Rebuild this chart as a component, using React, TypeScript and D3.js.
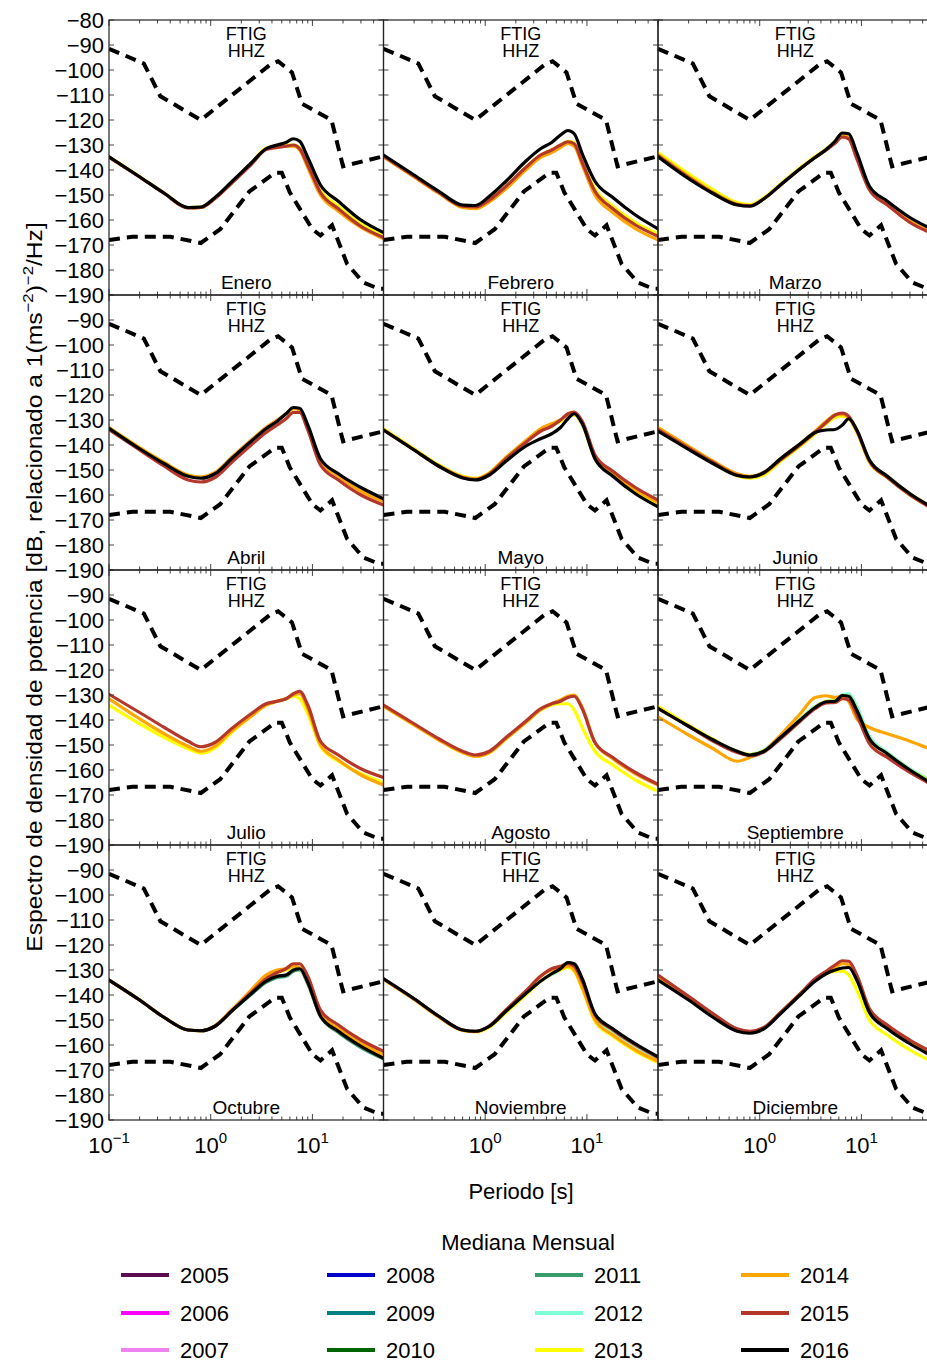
import React from 'react';
import * as d3 from 'd3';

// Periods (s) at which the monthly median curves are sampled
const PERIODS = [0.1, 0.2, 0.35, 0.6, 0.8, 1.1, 1.6, 2.5, 3.5, 4.5, 5.5, 6.5, 7.5, 9, 12, 18, 30, 50];

const YEARS = ['2005', '2006', '2007', '2008', '2009', '2010', '2011', '2012', '2013', '2014', '2015', '2016'];
const YEAR_COLORS = ['#5b0b4f', '#ff00ff', '#ee82ee', '#0000cd', '#008080', '#006400', '#3a9b6c', '#7fffd4', '#ffff00', '#ffa500', '#b5372a', '#000000'];

// Peterson high / low noise models (breakpoints)
const NHNM_P = [0.1, 0.22, 0.32, 0.8, 3.8, 4.6, 6.3, 7.9, 15.4, 20, 50];
const NHNM_DB = [-91.5, -97.4, -110.5, -120, -98, -96.5, -101, -113.5, -120, -138.5, -134.5];
const NLNM_P = [0.1, 0.17, 0.4, 0.8, 1.24, 2.4, 4.3, 5, 6, 10, 12, 15.6, 21.9, 31.6, 45, 50];
const NLNM_DB = [-168, -166.7, -166.7, -169.2, -163.7, -148.6, -141.1, -141.1, -149, -163.7, -166.2, -162.1, -177.5, -185, -187.5, -187.5];

const MONTHS = ['Enero', 'Febrero', 'Marzo', 'Abril', 'Mayo', 'Junio', 'Julio', 'Agosto', 'Septiembre', 'Octubre', 'Noviembre', 'Diciembre'];
const STATION = 'FTIG';
const CHANNEL = 'HHZ';
const Y_TICKS = [-80, -90, -100, -110, -120, -130, -140, -150, -160, -170, -180, -190];
const X_DECADES = [0.1, 1, 10];
const X_EXPONENTS = ['−1', '0', '1'];

type Series = [string, number[]];

const ENERO: Series[] = [
  ['2013', [-134.6, -142.6, -149.2, -155.0, -154.8, -151.2, -145.0, -137.3, -131.2, -130.5, -130.0, -130.0, -131.0, -137.0, -148.0, -154.5, -161.5, -166.5]],
  ['2014', [-134.8, -142.8, -149.4, -155.2, -155.0, -151.4, -145.3, -137.5, -131.5, -130.5, -130.5, -130.5, -132.0, -139.0, -150.0, -156.5, -163.0, -167.5]],
  ['2015', [-134.8, -142.8, -149.4, -155.2, -155.0, -151.4, -145.3, -137.8, -131.8, -131.0, -130.5, -130.0, -131.5, -138.0, -149.0, -155.5, -162.5, -167.0]],
  ['2016', [-134.7, -142.7, -149.3, -155.0, -154.8, -151.0, -144.8, -137.2, -131.5, -130.0, -129.0, -127.5, -128.5, -135.0, -146.0, -152.5, -160.0, -165.0]],
];
const FEBRERO: Series[] = [
  ['2013', [-134.5, -142.5, -149.0, -154.5, -154.8, -152.0, -146.5, -139.0, -134.0, -132.0, -130.0, -128.5, -129.0, -136.0, -147.5, -154.5, -161.0, -165.5]],
  ['2014', [-134.8, -142.8, -149.3, -155.0, -155.5, -152.8, -147.5, -140.0, -135.0, -133.0, -131.0, -129.5, -130.5, -138.0, -150.0, -157.0, -163.5, -168.0]],
  ['2015', [-134.5, -142.5, -149.0, -154.5, -154.8, -152.0, -146.5, -139.0, -134.0, -132.0, -130.0, -128.7, -129.5, -137.0, -148.5, -155.5, -162.0, -166.5]],
  ['2016', [-134.0, -142.0, -148.5, -154.0, -154.2, -150.5, -144.5, -136.5, -131.5, -129.0, -126.0, -124.2, -125.5, -133.5, -144.5, -151.0, -158.0, -163.5]],
];
const MARZO: Series[] = [
  ['2013', [-133.0, -141.5, -148.0, -153.0, -153.8, -151.0, -145.5, -139.0, -134.5, -131.5, -128.5, -126.0, -127.0, -134.5, -147.5, -153.5, -160.0, -164.5]],
  ['2014', [-133.8, -142.5, -149.0, -153.6, -154.2, -151.5, -146.0, -139.5, -135.0, -132.0, -129.0, -126.2, -127.0, -134.5, -147.5, -153.5, -160.3, -165.0]],
  ['2015', [-134.3, -143.0, -149.3, -153.8, -154.3, -151.5, -146.0, -139.5, -135.0, -132.0, -129.3, -126.8, -127.5, -135.5, -148.0, -154.0, -161.0, -165.5]],
  ['2016', [-134.7, -143.5, -149.5, -154.0, -154.5, -151.5, -146.0, -139.5, -135.0, -131.8, -128.5, -125.2, -125.5, -133.0, -146.5, -152.5, -159.0, -163.8]],
];
const ABRIL: Series[] = [
  ['2013', [-133.2, -141.2, -147.3, -152.3, -153.0, -151.2, -145.2, -138.2, -133.2, -130.2, -127.5, -125.3, -125.8, -132.5, -146.0, -152.0, -158.0, -162.0]],
  ['2014', [-133.0, -141.0, -147.0, -152.0, -152.8, -151.0, -145.0, -138.0, -133.0, -130.0, -127.5, -125.5, -126.0, -133.0, -146.5, -152.5, -158.5, -162.5]],
  ['2015', [-133.8, -142.0, -148.5, -154.0, -154.8, -153.0, -147.0, -140.0, -135.0, -132.0, -129.5, -127.0, -127.0, -134.0, -148.0, -154.0, -160.0, -164.0]],
  ['2016', [-133.3, -141.5, -147.5, -152.5, -153.3, -151.5, -145.5, -138.5, -133.5, -130.5, -127.5, -125.0, -125.3, -132.0, -145.5, -151.5, -157.0, -161.5]],
];
const MAYO: Series[] = [
  ['2013', [-133.5, -141.5, -148.0, -152.5, -153.3, -151.0, -145.0, -138.5, -134.0, -132.0, -130.5, -128.5, -128.0, -132.0, -145.5, -152.0, -158.5, -163.5]],
  ['2014', [-133.8, -141.8, -148.2, -152.8, -153.5, -151.2, -145.0, -138.3, -133.5, -131.5, -130.0, -128.0, -127.5, -131.0, -145.0, -151.5, -158.0, -163.0]],
  ['2015', [-134.0, -142.0, -148.5, -153.0, -153.8, -151.5, -145.5, -139.0, -134.5, -132.5, -130.0, -127.5, -126.8, -130.5, -144.0, -150.5, -157.0, -162.0]],
  ['2016', [-134.0, -142.0, -148.5, -153.2, -154.0, -152.0, -146.5, -140.5, -137.5, -135.5, -133.0, -129.5, -127.5, -131.5, -145.5, -152.5, -159.5, -164.7]],
];
const JUNIO: Series[] = [
  ['2013', [-133.5, -141.0, -147.0, -152.3, -153.3, -152.0, -146.5, -140.5, -135.5, -131.5, -129.0, -128.5, -129.5, -135.0, -147.0, -153.0, -160.0, -165.5]],
  ['2014', [-133.0, -140.5, -146.5, -151.5, -152.5, -151.0, -145.5, -139.5, -134.5, -130.5, -128.0, -127.8, -129.0, -134.5, -146.5, -152.5, -159.5, -165.0]],
  ['2015', [-133.8, -141.2, -147.0, -152.0, -152.8, -151.2, -146.0, -140.0, -135.0, -131.0, -128.0, -127.2, -128.5, -134.0, -146.5, -153.0, -160.0, -165.5]],
  ['2016', [-134.5, -141.8, -147.5, -152.2, -152.8, -151.0, -145.5, -139.5, -135.0, -134.0, -133.8, -132.0, -129.5, -134.0, -146.0, -152.5, -159.5, -165.0]],
];
const JULIO: Series[] = [
  ['2013', [-134.0, -141.5, -147.0, -151.5, -153.3, -151.3, -145.0, -138.5, -134.0, -132.5, -131.5, -130.5, -131.5, -137.5, -150.5, -156.5, -161.5, -165.0]],
  ['2014', [-131.5, -139.5, -145.5, -150.5, -152.5, -150.5, -144.5, -138.5, -134.0, -132.5, -131.5, -130.0, -129.5, -135.5, -150.0, -156.0, -162.0, -166.0]],
  ['2015', [-129.7, -137.0, -143.0, -148.5, -150.7, -149.0, -143.5, -137.5, -133.5, -132.5, -131.5, -129.5, -128.5, -134.0, -148.5, -154.0, -159.5, -163.0]],
];
const AGOSTO: Series[] = [
  ['2013', [-134.5, -142.0, -148.0, -153.0, -154.5, -153.0, -147.5, -141.0, -136.0, -134.0, -133.5, -133.5, -136.0, -143.0, -152.5, -158.0, -164.0, -168.5]],
  ['2014', [-134.5, -142.0, -148.0, -153.0, -154.5, -153.0, -147.5, -141.0, -136.0, -133.5, -132.0, -130.5, -130.0, -135.0, -149.0, -155.5, -161.5, -166.0]],
  ['2015', [-134.0, -141.5, -147.5, -152.5, -154.0, -152.5, -147.0, -140.5, -135.5, -133.5, -132.5, -131.0, -130.5, -135.5, -149.0, -155.0, -161.0, -165.7]],
];
const SEPTIEMBRE: Series[] = [
  ['2012', [-135.0, -142.5, -148.0, -152.5, -153.8, -152.0, -146.5, -139.5, -134.5, -132.5, -132.0, -130.0, -129.5, -134.5, -146.5, -153.0, -159.5, -164.5]],
  ['2013', [-134.5, -142.0, -147.8, -152.5, -153.8, -152.3, -146.8, -139.8, -134.8, -132.5, -132.3, -130.3, -130.5, -136.0, -147.5, -153.5, -160.0, -165.0]],
  ['2014', [-138.7, -146.0, -151.5, -156.5, -155.0, -152.5, -146.0, -137.5, -131.0, -130.3, -131.0, -130.5, -132.5, -139.5, -143.0, -145.5, -148.5, -152.0]],
  ['2015', [-135.5, -142.5, -148.5, -153.0, -154.3, -152.8, -147.5, -140.5, -135.5, -133.2, -133.0, -131.5, -132.0, -138.0, -149.5, -155.0, -161.0, -166.0]],
  ['2016', [-135.3, -142.5, -148.0, -152.5, -154.0, -152.5, -147.0, -140.0, -135.0, -132.7, -132.5, -130.2, -130.5, -136.0, -147.5, -153.5, -160.0, -165.5]],
];
const OCTUBRE: Series[] = [
  ['2011', [-134.0, -142.0, -149.0, -154.0, -154.3, -152.5, -146.5, -139.8, -135.0, -133.0, -132.5, -130.5, -130.0, -135.5, -148.5, -155.0, -161.0, -165.5]],
  ['2013', [-134.0, -142.0, -149.0, -154.0, -154.3, -152.3, -146.2, -138.5, -133.0, -131.0, -130.0, -129.0, -129.5, -135.0, -148.0, -154.0, -160.0, -164.5]],
  ['2014', [-134.0, -142.0, -149.0, -154.0, -154.3, -152.3, -146.0, -138.0, -132.0, -130.0, -129.5, -128.5, -129.0, -134.5, -147.5, -153.5, -159.5, -164.0]],
  ['2015', [-134.0, -142.0, -149.0, -154.0, -154.3, -152.5, -146.5, -139.0, -133.5, -131.0, -129.5, -127.5, -127.5, -132.5, -146.0, -152.0, -158.0, -162.5]],
  ['2016', [-134.0, -142.0, -149.0, -154.0, -154.3, -152.5, -146.5, -139.5, -134.5, -132.5, -132.0, -130.0, -129.5, -135.0, -148.5, -154.5, -160.5, -165.3]],
];
const NOVIEMBRE: Series[] = [
  ['2012', [-133.6, -141.6, -148.6, -154.1, -154.6, -152.6, -146.8, -139.8, -134.5, -131.8, -130.0, -128.0, -128.5, -135.0, -148.5, -154.5, -160.5, -165.5]],
  ['2013', [-133.8, -141.8, -148.8, -154.2, -154.7, -152.8, -147.0, -140.0, -134.5, -131.5, -130.0, -129.0, -130.5, -137.5, -150.5, -156.5, -162.5, -167.0]],
  ['2014', [-133.8, -141.8, -148.8, -154.2, -154.7, -152.5, -146.0, -138.5, -132.5, -130.0, -129.5, -128.5, -130.0, -137.0, -150.0, -156.0, -162.0, -166.5]],
  ['2015', [-133.5, -141.5, -148.5, -154.0, -154.5, -152.3, -146.0, -138.5, -132.5, -129.5, -128.5, -127.5, -128.5, -134.5, -148.0, -154.0, -160.0, -165.0]],
  ['2016', [-133.5, -141.5, -148.5, -154.0, -154.5, -152.5, -146.5, -139.5, -134.5, -131.5, -129.5, -127.0, -127.5, -133.5, -147.5, -153.5, -159.5, -164.7]],
];
const DICIEMBRE: Series[] = [
  ['2013', [-133.5, -141.5, -148.5, -154.0, -155.0, -153.2, -147.0, -139.5, -134.0, -131.5, -130.5, -130.5, -132.0, -138.0, -150.0, -156.0, -162.0, -166.8]],
  ['2014', [-132.8, -141.0, -148.0, -154.0, -155.0, -153.2, -147.2, -139.8, -134.0, -131.0, -129.0, -127.5, -128.0, -133.5, -146.5, -153.0, -159.0, -164.0]],
  ['2015', [-132.0, -140.5, -147.5, -153.5, -154.5, -153.0, -147.0, -139.5, -133.5, -130.5, -128.0, -126.3, -126.5, -132.0, -145.5, -152.0, -158.0, -163.0]],
  ['2016', [-134.0, -142.0, -149.0, -154.5, -155.3, -153.5, -147.5, -140.0, -134.5, -131.5, -130.0, -129.2, -129.0, -134.0, -147.0, -153.5, -159.5, -164.5]],
];
const MONTH_DATA = [ENERO, FEBRERO, MARZO, ABRIL, MAYO, JUNIO, JULIO, AGOSTO, SEPTIEMBRE, OCTUBRE, NOVIEMBRE, DICIEMBRE];

const FONT = "'Liberation Sans', Arial, Helvetica, sans-serif";
const W = 927;
const H = 1364;
const LEFT = 109;
const TOP = 20;
const PW = 274.5;
const PH = 275;

const colorOf = (yr: string) => YEAR_COLORS[YEARS.indexOf(yr)];

export default function App() {
  const x = d3.scaleLog().domain([0.1, 50]).range([0, PW]);
  const y = d3.scaleLinear().domain([-190, -80]).range([PH, 0]);
  const curve = d3.line<[number, number]>().x(d => x(d[0])).y(d => y(d[1])).curve(d3.curveMonotoneX);
  const straight = d3.line<[number, number]>().x(d => x(d[0])).y(d => y(d[1]));
  const xTicks = x.ticks();
  const nhnm = straight(NHNM_P.map((p, i) => [p, NHNM_DB[i]] as [number, number])) || '';
  const nlnm = straight(NLNM_P.map((p, i) => [p, NLNM_DB[i]] as [number, number])) || '';

  const panels = MONTHS.map((m, i) => {
    const r = Math.floor(i / 3);
    const c = i % 3;
    const series = MONTH_DATA[i];
    return (
      <g key={m} transform={`translate(${LEFT + c * PW},${TOP + r * PH})`}>
        <defs>
          <clipPath id={`clip${i}`}>
            <rect x={0} y={0} width={PW} height={PH} />
          </clipPath>
        </defs>
        <g clipPath={`url(#clip${i})`}>
          <path d={nhnm} fill="none" stroke="#000" strokeWidth={4} strokeDasharray="11,7" />
          <path d={nlnm} fill="none" stroke="#000" strokeWidth={4} strokeDasharray="11,7" />
          {series.map(([yr, vals]) => (
            <path
              key={yr}
              d={curve(PERIODS.map((p, k) => [p, vals[k]] as [number, number])) || ''}
              fill="none"
              stroke={colorOf(yr)}
              strokeWidth={3.2}
              strokeLinejoin="round"
              strokeLinecap="round"
            />
          ))}
        </g>
        {Y_TICKS.map(t => (
          <g key={'yt' + t}>
            <line x1={0} x2={5} y1={y(t)} y2={y(t)} stroke="#444" strokeWidth={1} />
            <line x1={PW} x2={PW - 5} y1={y(t)} y2={y(t)} stroke="#444" strokeWidth={1} />
          </g>
        ))}
        {xTicks.map((t, k) => {
          const major = X_DECADES.includes(t);
          const len = major ? 6 : 3.5;
          return (
            <g key={'xt' + k}>
              <line x1={x(t)} x2={x(t)} y1={0} y2={len} stroke="#444" strokeWidth={1} />
              <line x1={x(t)} x2={x(t)} y1={PH} y2={PH - len} stroke="#444" strokeWidth={1} />
            </g>
          );
        })}
        <rect x={0} y={0} width={PW} height={PH} fill="none" stroke="#222" strokeWidth={1.2} />
        <text x={PW / 2} y={19.5} textAnchor="middle" fontSize={18} fontFamily={FONT}>{STATION}</text>
        <text x={PW / 2} y={37} textAnchor="middle" fontSize={18} fontFamily={FONT}>{CHANNEL}</text>
        <text x={PW / 2} y={269} textAnchor="middle" fontSize={19} fontFamily={FONT}>{m}</text>
        {c === 0 &&
          Y_TICKS.filter(t => r === 0 || t !== -80).map(t => (
            <text key={'yl' + t} x={-5} y={y(t) + 8} textAnchor="end" fontSize={22} fontFamily={FONT}>
              {'−' + Math.abs(t)}
            </text>
          ))}
        {r === 3 &&
          X_DECADES.map((d, k) =>
            c > 0 && k === 0 ? null : (
              <text key={'xl' + k} x={x(d)} y={PH + 33} textAnchor="middle" fontSize={22} fontFamily={FONT}>
                10
                <tspan dy={-10} fontSize={15}>{X_EXPONENTS[k]}</tspan>
              </text>
            )
          )}
      </g>
    );
  });

  const legendCols = [121, 327, 535, 741];
  const legendRows = [1275, 1313, 1350];

  return (
    <svg
      width={W}
      height={H}
      style={{ position: 'absolute', left: 0, top: 0, display: 'block', background: '#fff' }}
      fontFamily={FONT}
    >
      <rect x={0} y={0} width={W} height={H} fill="#fff" />
      {panels}
      <text transform="translate(42,587) rotate(-90) scale(1.12,1)" textAnchor="middle" fontSize={22} fontFamily={FONT}>
        Espectro de densidad de potencia [dB, relacionado a  1(ms
        <tspan dy={-9} fontSize={15}>−2</tspan>
        <tspan dy={9}>)</tspan>
        <tspan dy={-9} fontSize={15}>−2</tspan>
        <tspan dy={9}>/Hz]</tspan>
      </text>
      <text x={521} y={1199} textAnchor="middle" fontSize={22} fontFamily={FONT}>Periodo [s]</text>
      <text x={528} y={1250} textAnchor="middle" fontSize={22} fontFamily={FONT}>Mediana Mensual</text>
      {YEARS.map((yr, i) => {
        const col = Math.floor(i / 3);
        const row = i % 3;
        const lx = legendCols[col];
        const ly = legendRows[row];
        return (
          <g key={'lg' + yr}>
            <line x1={lx} x2={lx + 48} y1={ly} y2={ly} stroke={YEAR_COLORS[i]} strokeWidth={4} />
            <text x={lx + 59} y={ly + 8} fontSize={22} fontFamily={FONT}>{yr}</text>
          </g>
        );
      })}
    </svg>
  );
}
